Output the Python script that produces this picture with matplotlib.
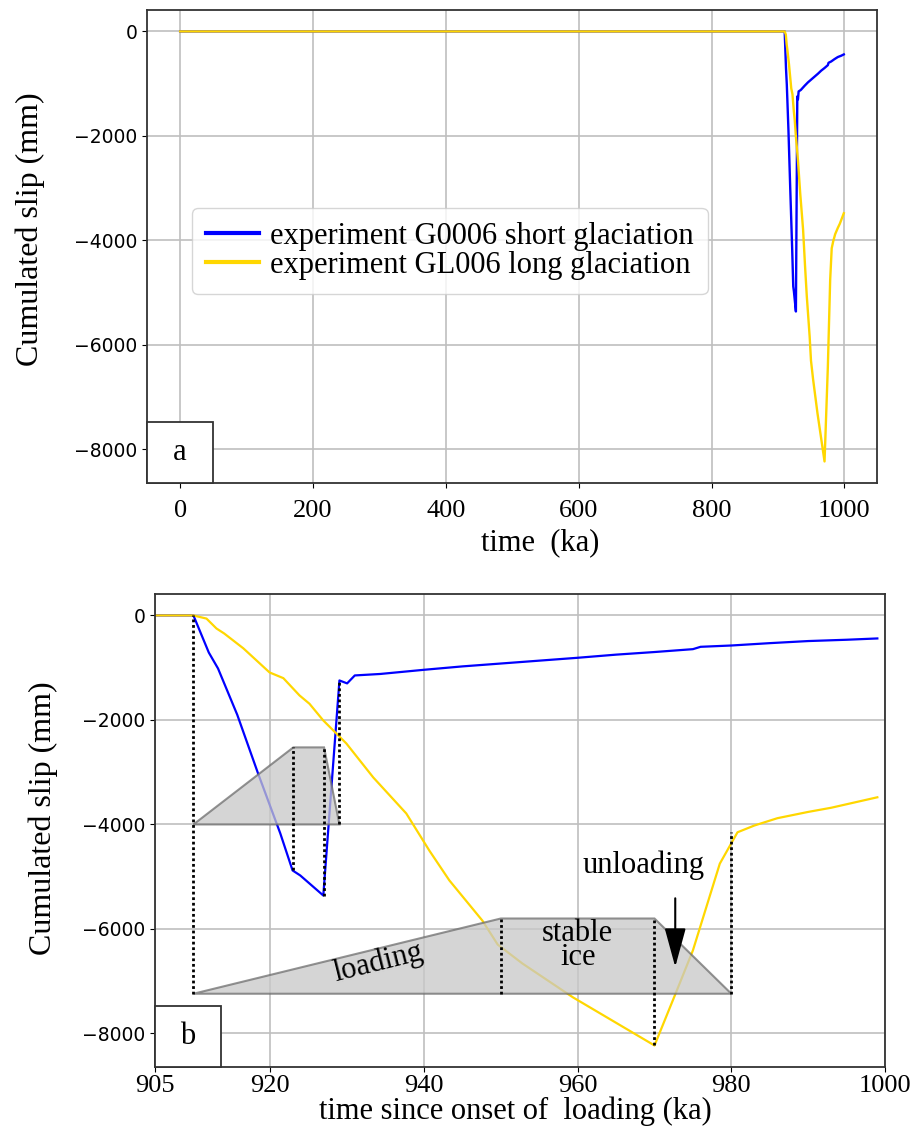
import numpy as np
import matplotlib.pyplot as plt

plt.rcParams['font.family'] = ['Liberation Serif', 'DejaVu Serif']

# experiment G0006, short glaciation (time ka, cumulated slip mm)
short_t = [0, 905, 910, 912, 913.2, 915.7, 918.4, 921.3, 922.9, 923.9, 926.9,
           929.0, 930, 931, 934.3, 940, 945, 950, 955, 960, 965, 970, 975,
           976, 980, 985, 990, 995, 999]
short_slip = [0, 0, 0, -710, -1015, -1900, -3020, -4170, -4880, -4976, -5360,
              -1244, -1300, -1148, -1120, -1040, -975, -920, -865, -810, -750,
              -700, -645, -600, -575, -530, -490, -465, -440]

# experiment GL006, long glaciation
long_t = [0, 905, 910, 911.7, 913, 914, 916.5, 919.9, 921.7, 923.8, 925.1,
          926.9, 929.9, 933.4, 937.7, 940.7, 943.3, 947.6, 949.6, 952.8, 959.4,
          970.0, 972.9, 975.0, 978.5, 980.8, 983, 986, 990, 993, 996, 999]
long_slip = [0, 0, 0, -60, -250, -345, -630, -1090, -1200, -1530, -1690,
             -2010, -2450, -3100, -3790, -4500, -5070, -5840, -6300, -6660,
             -7310, -8230, -7180, -6410, -4750, -4150, -4020, -3880, -3760,
             -3680, -3580, -3480]

# schematic ice loading histories
short_ice_t = [910, 923, 927, 929]
short_ice_y = [-4000, -2525, -2525, -4000]
long_ice_t = [910, 950, 970, 980]
long_ice_y = [-7240, -5800, -5800, -7240]

# dotted guide lines
guide_t = [910, 923, 927, 929, 950, 970, 980]
guide_top = [0, -2525, -2525, -1244, -5800, -5800, -4150]
guide_bot = [-7240, -4880, -5360, -4000, -7240, -8230, -7240]

yticks = [0, -2000, -4000, -6000, -8000]
ylabels = ['0', '\u22122000', '\u22124000', '\u22126000', '\u22128000']
xticks_a = [0, 200, 400, 600, 800, 1000]
xticks_b = [905, 920, 940, 960, 980, 1000]

BLUE = '#0000ff'
GOLD = '#ffd700'

fig = plt.figure(figsize=(9.14, 11.42), dpi=100)
ax1 = fig.add_axes([0.1608, 0.5771, 0.7987, 0.4142])
ax2 = fig.add_axes([0.1696, 0.0657, 0.7987, 0.4142])


def style(ax):
    ax.grid(True, color='#bfbfbf', lw=1.2)
    ax.set_axisbelow(True)
    for s in ax.spines.values():
        s.set_color('#333333')
        s.set_linewidth(1.3)
    ax.set_yticks(yticks, ylabels, fontfamily='DejaVu Sans', fontsize=13.5)
    ax.tick_params(axis='x', labelsize=19)
    ax.set_ylabel('Cumulated slip (mm)', fontsize=23)


def panel_box(ax, letter):
    ax.add_patch(plt.Rectangle((0, 0), 0.09, 0.129, transform=ax.transAxes,
                               fill=True, fc='white', ec='#333333', lw=1.3,
                               zorder=5, clip_on=False))
    ax.text(0.045, 0.064, letter, transform=ax.transAxes, ha='center',
            va='center', fontsize=22, zorder=6)


# ---- panel a
ax1.plot(short_t, short_slip, color=BLUE, lw=1.7,
         label='experiment G0006 short glaciation')
ax1.plot(long_t, long_slip, color=GOLD, lw=1.7,
         label='experiment GL006 long glaciation')
style(ax1)
ax1.set_xticks(xticks_a)
ax1.tick_params(axis='x', pad=9)
ax1.set_xlabel('time  (ka)', fontsize=22)
ax1.xaxis.set_label_coords(0.538, -0.095)
ax1.yaxis.set_label_coords(-0.14, 0.537)
leg = ax1.legend(loc='upper left', bbox_to_anchor=(0.062, 0.581),
                 borderaxespad=0, fontsize=22, handlelength=1.75,
                 handletextpad=0.35, labelspacing=0.0, borderpad=0.45)
for ln in leg.get_lines():
    ln.set_linewidth(3)
panel_box(ax1, 'a')

# ---- panel b
ax2.plot(short_t, short_slip, color=BLUE, lw=1.6, zorder=2)
ax2.plot(long_t, long_slip, color=GOLD, lw=1.6, zorder=2)
ax2.fill(short_ice_t, short_ice_y, fc='#c8c8c8', ec='#6e6e6e', lw=1.5,
         alpha=0.75, zorder=3)
ax2.fill(long_ice_t, long_ice_y, fc='#c8c8c8', ec='#6e6e6e', lw=1.5,
         alpha=0.75, zorder=3)
ax2.vlines(guide_t, guide_bot, guide_top, colors='k', lw=2,
           linestyles=(0, (1, 1)), zorder=4)
ax2.text(934.0, -6640, 'loading', rotation=14, ha='center', va='center',
         fontsize=22, zorder=5)
ax2.text(960.0, -6316, 'stable\nice', ha='center', va='center',
         fontsize=22, linespacing=0.8, zorder=5)
ax2.text(968.6, -4780, 'unloading', ha='center', va='center',
         fontsize=22, zorder=5)
ax2.annotate('', xy=(972.7, -6780), xytext=(972.7, -5360),
             arrowprops=dict(arrowstyle='-|>,head_length=1.1,head_width=0.3',
                             color='k', lw=1.5, mutation_scale=22),
             zorder=5)
style(ax2)
ax2.set_xlim(905, 1000)
ax2.set_xticks(xticks_b)
ax2.tick_params(axis='x', pad=2)
ax2.set_xlabel('time since onset of  loading (ka)', fontsize=22)
ax2.xaxis.set_label_coords(0.493, -0.062)
ax2.yaxis.set_label_coords(-0.133, 0.526)
panel_box(ax2, 'b')

fig.savefig('out.png', dpi=100)
